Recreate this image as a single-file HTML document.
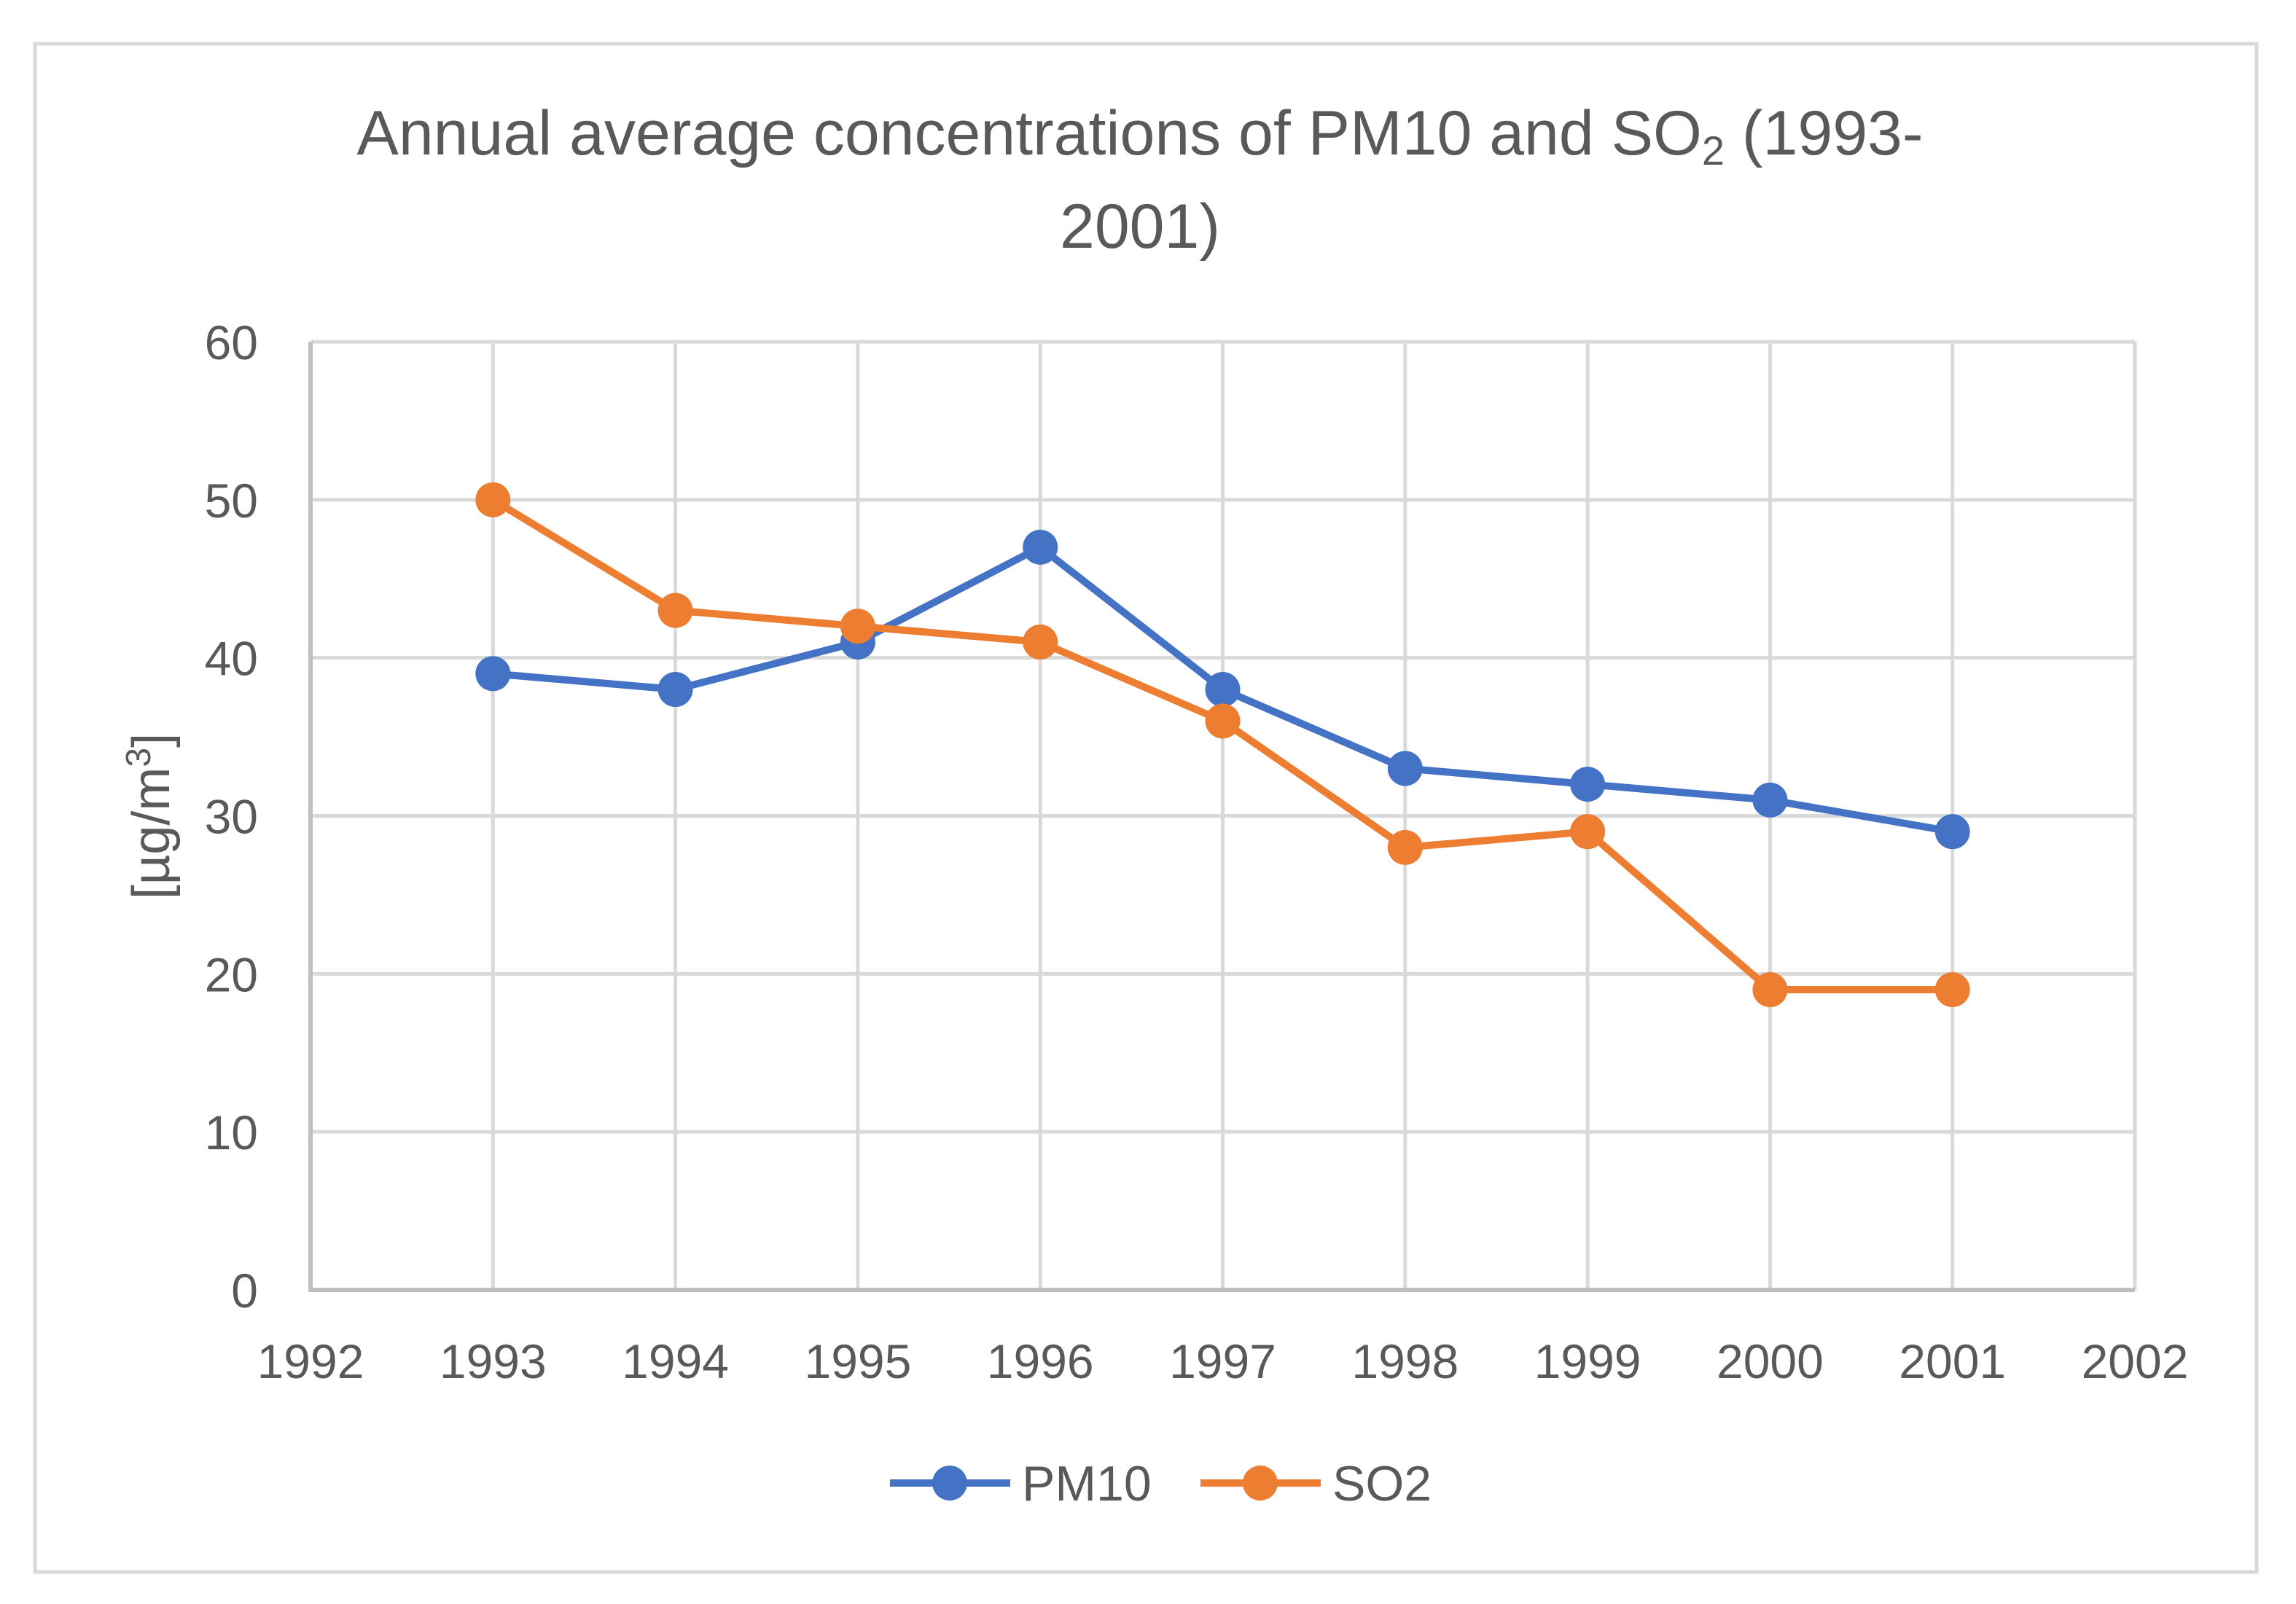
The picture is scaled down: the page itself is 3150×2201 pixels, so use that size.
<!DOCTYPE html>
<html><head><meta charset="utf-8"><style>
html,body{margin:0;padding:0;background:#fff;}
svg{display:block;font-family:"Liberation Sans",sans-serif;}
</style></head><body>
<svg id="chart" width="3150" height="2201" viewBox="0 0 3150 2201" xmlns="http://www.w3.org/2000/svg">
<rect x="48" y="60" width="3048" height="2097" fill="#fff" stroke="#d9d9d9" stroke-width="5"/>
<text x="1564" y="212" font-size="86" fill="#595959" text-anchor="middle">Annual average concentrations of PM10 and SO<tspan font-size="56" dy="14">2</tspan><tspan dy="-14"> (1993-</tspan></text>
<text x="1564" y="340" font-size="86" fill="#595959" text-anchor="middle">2001)</text>
<g id="grid"></g>
<g id="axes"></g>
<g id="series"></g>
<text transform="translate(232,1120) rotate(-90)" font-size="72" fill="#595959" text-anchor="middle">[µg/m<tspan font-size="48" dy="-26">3</tspan><tspan dy="26">]</tspan></text>
<g>
<line x1="1221" y1="2035" x2="1386" y2="2035" stroke="#4472c4" stroke-width="10"/>
<circle cx="1303" cy="2035" r="24" fill="#4472c4"/>
<text x="1402" y="2059" font-size="68" fill="#595959">PM10</text>
<line x1="1647" y1="2035" x2="1812" y2="2035" stroke="#ed7d31" stroke-width="10"/>
<circle cx="1729" cy="2035" r="24" fill="#ed7d31"/>
<text x="1828" y="2059" font-size="68" fill="#595959">SO2</text>
</g>
</svg>
<script>
const years = [1993,1994,1995,1996,1997,1998,1999,2000,2001];
const pm10 = [39,38,41,47,38,33,32,31,29];
const so2 = [50,43,42,41,36,28,29,19,19];
const yTicks = [0,10,20,30,40,50,60];
const xTicks = [1992,1993,1994,1995,1996,1997,1998,1999,2000,2001,2002];
const NS='http://www.w3.org/2000/svg';
const X0=426,X1=2929,Y0=1770,Y1=469;
function xs(v){return X0+(v-1992)/(2002-1992)*(X1-X0);}
function ys(v){return Y0-(v-0)/(60-0)*(Y0-Y1);}
function mk(tag,attrs,parent){const e=document.createElementNS(NS,tag);for(const k in attrs)e.setAttribute(k,attrs[k]);parent.appendChild(e);return e;}
const grid=document.getElementById('grid'),axes=document.getElementById('axes'),series=document.getElementById('series');
yTicks.forEach(t=>{
  if(t>0){const l=mk('line',{x1:X0,x2:X1,y1:ys(t),y2:ys(t),stroke:'#d9d9d9','stroke-width':5},grid);
  
  }
  const tx=mk('text',{x:354,y:ys(t)+24,'font-size':66,fill:'#595959','text-anchor':'end'},axes);
  tx.textContent=t;
  
  
});
xTicks.forEach(t=>{
  if(t>1992){const l=mk('line',{x1:xs(t),x2:xs(t),y1:Y1,y2:Y0,stroke:'#d9d9d9','stroke-width':5},grid);
  
  }
  const tx=mk('text',{x:xs(t),y:1891,'font-size':66,fill:'#595959','text-anchor':'middle'},axes);
  tx.textContent=t;
  
  
});
const ya=mk('line',{x1:X0,x2:X0,y1:Y1,y2:Y0+3,stroke:'#bfbfbf','stroke-width':6},axes);


const xa=mk('line',{x1:X0-3,x2:X1,y1:Y0,y2:Y0,stroke:'#bfbfbf','stroke-width':6},axes);


function draw(vals,color,name){
  const pts=vals.map((v,i)=>xs(years[i])+','+ys(v)).join(' ');
  const pl=mk('polyline',{points:pts,fill:'none',stroke:color,'stroke-width':10,'stroke-linejoin':'round','stroke-linecap':'round'},series);
  
  
  vals.forEach((v,i)=>{
    const c=mk('circle',{cx:xs(years[i]),cy:ys(v),r:24,fill:color},series);
    
    
  });
}
draw(pm10,'#4472c4','pm10');
draw(so2,'#ed7d31','so2');
</script>
</body></html>
